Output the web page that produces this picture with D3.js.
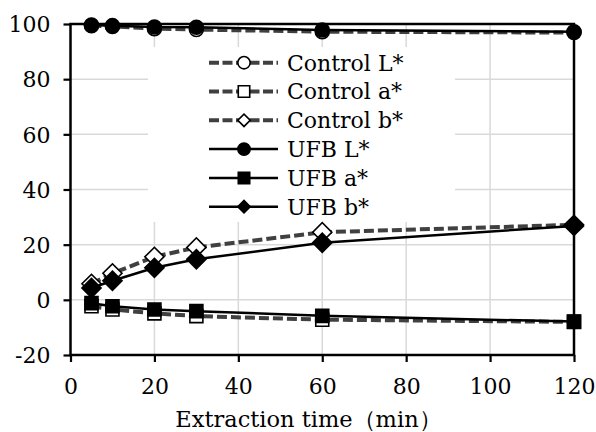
<!DOCTYPE html>
<html>
<head>
<meta charset="utf-8">
<script src="https://cdn.jsdelivr.net/npm/d3@7"></script>
<style>
  html, body { margin: 0; padding: 0; background: #fff; }
  svg { display: block; }
  text { font-family: "DejaVu Serif", serif; fill: #000; }
</style>
</head>
<body>
<svg id="chart" width="596" height="432"></svg>
<script>
// ---- data ----
const times = [5, 10, 20, 30, 60, 120];
const controlL = [99.4, 99.1, 98.3, 98.0, 97.2, 96.9];
const controlA = [-2.3, -3.5, -4.9, -5.9, -7.2, -8.0];
const controlB = [5.8, 9.6, 15.6, 19.0, 24.5, 27.2];
const ufbL = [99.6, 99.4, 98.9, 98.8, 97.8, 97.2];
const ufbA = [-1.2, -2.3, -3.5, -4.1, -5.8, -7.9];
const ufbB = [4.3, 6.9, 11.6, 14.7, 20.7, 26.8];
const xTicks = [0, 20, 40, 60, 80, 100, 120];
const yTicks = [-20, 0, 20, 40, 60, 80, 100];
const seriesNames = ["Control L*", "Control a*", "Control b*", "UFB L*", "UFB a*", "UFB b*"];
const xLabel = "Extraction time（min）";

const series = [
  { name: seriesNames[0], values: controlL, dashed: true,  shape: "circle",  filled: false },
  { name: seriesNames[1], values: controlA, dashed: true,  shape: "square",  filled: false },
  { name: seriesNames[2], values: controlB, dashed: true,  shape: "diamond", filled: false },
  { name: seriesNames[3], values: ufbL,     dashed: false, shape: "circle",  filled: true },
  { name: seriesNames[4], values: ufbA,     dashed: false, shape: "square",  filled: true },
  { name: seriesNames[5], values: ufbB,     dashed: false, shape: "diamond", filled: true }
];

const svg = d3.select("#chart");
const x = d3.scaleLinear().domain([0, 120]).range([70.5, 574]);
const y = d3.scaleLinear().domain([-20, 100]).range([355, 24]);

// gridlines
const grid = svg.append("g");
grid.selectAll("line.gx").data(xTicks.slice(1, -1)).join("line")
  .attr("x1", d => x(d)).attr("x2", d => x(d))
  .attr("y1", y(100)).attr("y2", y(-20))
  .attr("stroke", "#d9d9d9").attr("stroke-width", 1.5);
grid.selectAll("line.gy").data(yTicks.slice(1, -1)).join("line")
  .attr("x1", x(0)).attr("x2", x(120))
  .attr("y1", d => y(d)).attr("y2", d => y(d))
  .attr("stroke", "#d9d9d9").attr("stroke-width", 1.5);

// legend background (covers gridlines)
svg.append("rect").attr("x", 148).attr("y", 47).attr("width", 307).attr("height", 175).attr("fill", "#fff");

// axes
const fmt = d => String(d);
const yAxis = d3.axisLeft(y).tickValues(yTicks).tickSize(7).tickPadding(13).tickFormat(fmt);
const gy = svg.append("g").attr("transform", `translate(${x(0)},0)`).call(yAxis);
gy.select(".domain").remove();
gy.selectAll("line").attr("stroke", "#000").attr("stroke-width", 2.2);
gy.selectAll("text").attr("font-size", 22).attr("font-family", "DejaVu Serif").attr("dy", "0.35em");

const xAxis = d3.axisBottom(x).tickValues(xTicks).tickSize(7).tickPadding(0).tickFormat(fmt);
const gx = svg.append("g").attr("transform", `translate(0,${y(-20)})`).call(xAxis);
gx.select(".domain").remove();
gx.selectAll("line").attr("stroke", "#000").attr("stroke-width", 2.2);
gx.selectAll("text").attr("font-size", 22).attr("font-family", "DejaVu Serif").attr("y", 39).attr("dy", 0);

// plot border
svg.append("rect").attr("x", x(0)).attr("y", y(100))
  .attr("width", x(120) - x(0)).attr("height", y(-20) - y(100))
  .attr("fill", "none").attr("stroke", "#000").attr("stroke-width", 2.5);

// x label
svg.append("text").attr("x", 308.5).attr("y", 427).attr("text-anchor", "middle")
  .attr("font-size", 22.5).text(xLabel);

function markerPath(shape, scale) {
  if (shape === "circle") return d3.symbol(d3.symbolCircle, Math.PI * 49 * scale * scale)();
  if (shape === "square") return d3.symbol(d3.symbolSquare, 169 * scale * scale)();
  return d3.symbol(d3.symbolSquare, 13.5 * 13.5 * scale * scale)();
}
function drawMarker(g, s, px, py, scale) {
  const rot = s.shape === "diamond" ? 45 : 0;
  g.append("path")
    .attr("d", markerPath(s.shape, scale))
    .attr("transform", `translate(${px},${py}) rotate(${rot})`)
    .attr("fill", s.filled ? "#000" : "#fff")
    .attr("stroke", "#000").attr("stroke-width", 1.6);
}

const line = d3.line().x(d => x(d[0])).y(d => y(d[1]));
const plot = svg.append("g");
series.forEach(s => {
  const pts = times.map((t, i) => [t, s.values[i]]);
  plot.append("path").datum(pts).attr("d", line)
    .attr("fill", "none")
    .attr("stroke", s.dashed ? "#404040" : "#000")
    .attr("stroke-width", s.dashed ? 4 : 2.5)
    .attr("stroke-dasharray", s.dashed ? "10,4" : null);
  pts.forEach(p => drawMarker(plot, s, x(p[0]), y(p[1]), 1.0));
});

// legend
const lg = svg.append("g");
const rowY = [62.7, 91.5, 120.3, 149.1, 177.9, 206.7];
series.forEach((s, i) => {
  const ry = rowY[i];
  lg.append("line").attr("x1", 209).attr("x2", 278).attr("y1", ry).attr("y2", ry)
    .attr("stroke", s.dashed ? "#404040" : "#000")
    .attr("stroke-width", s.dashed ? 4 : 2.5)
    .attr("stroke-dasharray", s.dashed ? "10,3.5" : null);
  drawMarker(lg, s, 244, ry, s.shape === "diamond" ? 0.65 : 0.88);
  lg.append("text").attr("x", 287).attr("y", ry).attr("dy", "0.36em")
    .attr("font-size", 22).text(s.name);
});
</script>
</body>
</html>
